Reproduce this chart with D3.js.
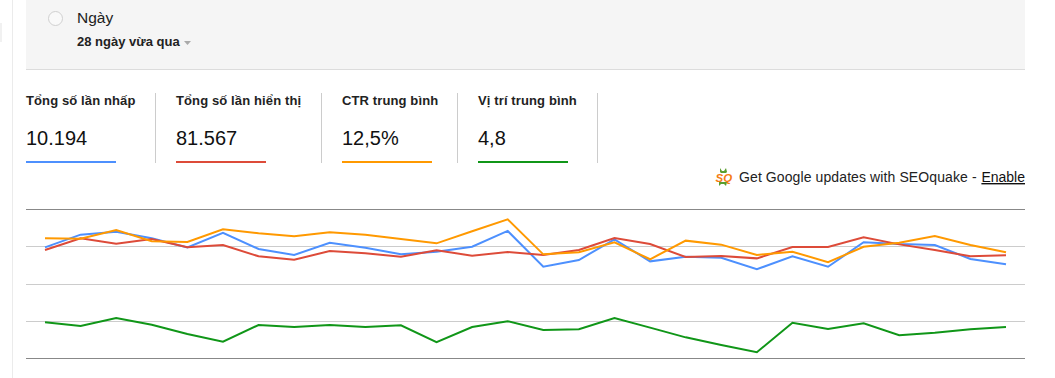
<!DOCTYPE html>
<html>
  <head>
    <meta charset="utf-8" />
    <title>Search Analytics</title>
    <style>
      html,
      body {
        margin: 0;
        padding: 0;
        background: #fff;
        overflow: hidden;
      }

      svg {
        display: block;
        font-family: 'Liberation Sans', Arial, sans-serif;
      }
    </style>
  </head>
  <body>
    <svg id="svg" width="1055" height="378"></svg>
    <script src="https://cdn.jsdelivr.net/npm/d3@7"></script>
    <script>
      const width = 1055;
      const height = 378;

      const days = d3.range(1, 29);
      const metricNames = ['Tổng số lần nhấp', 'Tổng số lần hiển thị', 'CTR trung bình', 'Vị trí trung bình'];
      const metricValues = ['10.194', '81.567', '12,5%', '4,8'];
      const metricColors = ['#4d90fe', '#dd4b39', '#ff9900', '#109618'];
      const gridTicks = [0, 25, 50, 75, 100];

      const clicks = [74.6, 83.1, 85.1, 80.7, 74.6, 84.4, 73.5, 69.5, 77.7, 74.4, 69.9, 71.7, 75.0, 85.6, 61.6, 66.1, 80.0, 65.2, 68.3, 67.6, 59.9, 68.6, 61.6, 78.0, 76.8, 76.2, 66.8, 63.2];
      const impressions = [72.8, 80.7, 77.0, 80.2, 74.6, 76.2, 68.6, 66.3, 72.1, 70.6, 68.3, 72.6, 69.0, 71.5, 69.5, 72.8, 80.9, 76.8, 68.1, 68.8, 67.2, 74.8, 74.8, 81.3, 76.6, 72.8, 68.6, 69.3];
      const ctr = [80.7, 80.4, 86.2, 78.7, 78.2, 86.7, 84.0, 82.0, 84.7, 83.1, 80.2, 77.3, 85.4, 93.4, 69.9, 71.3, 78.0, 66.6, 79.1, 76.4, 69.5, 71.7, 64.6, 75.0, 77.7, 82.2, 76.2, 71.3];
      const position = [24.3, 21.8, 27.2, 22.7, 16.4, 11.3, 22.5, 21.1, 22.5, 21.1, 22.3, 10.9, 21.1, 25.0, 19.1, 19.6, 27.2, 20.7, 14.2, 9.1, 4.2, 24.0, 19.8, 23.6, 15.6, 17.3, 19.6, 21.1];

      const svg = d3.select('#svg');

      // side rule and grey filter panel
      svg.append('rect').attr('x', 0).attr('y', 23).attr('width', 2).attr('height', 19).attr('fill', '#f1f1f1');
      svg.append('rect').attr('x', 12).attr('y', 0).attr('width', 1).attr('height', height).attr('fill', '#ebebeb');
      svg.append('rect').attr('x', 26).attr('y', 0).attr('width', 999).attr('height', 69).attr('fill', '#f5f5f5');
      svg.append('rect').attr('x', 26).attr('y', 69).attr('width', 999).attr('height', 1).attr('fill', '#dcdcdc');

      svg
        .append('circle')
        .attr('cx', 55.5)
        .attr('cy', 18.5)
        .attr('r', 7)
        .attr('fill', '#f9f9f9')
        .attr('stroke', '#d0d0d0');
      svg
        .append('text')
        .attr('x', 77)
        .attr('y', 23)
        .attr('font-size', 15.5)
        .attr('fill', '#222')
        .text('Ngày');
      svg
        .append('text')
        .attr('x', 77)
        .attr('y', 46)
        .attr('font-size', 13)
        .attr('font-weight', 'bold')
        .attr('fill', '#222')
        .text('28 ngày vừa qua');
      svg.append('path').attr('d', 'M184 41h7l-3.5 4z').attr('fill', '#aaa');

      // metric tabs
      const tabX = d3.scaleOrdinal().domain(metricNames).range([26, 176, 342, 478]);
      const tabs = svg
        .selectAll('g.tab')
        .data(metricNames)
        .enter()
        .append('g')
        .attr('class', 'tab')
        .attr('transform', (d) => `translate(${tabX(d)}, 0)`);
      tabs
        .append('text')
        .attr('y', 105)
        .attr('font-size', 13)
        .attr('font-weight', 'bold')
        .attr('letter-spacing', 0.12)
        .attr('fill', '#222')
        .text((d) => d);
      tabs
        .append('text')
        .attr('y', 145)
        .attr('font-size', 20)
        .attr('fill', '#111')
        .text((d, i) => metricValues[i]);
      tabs
        .append('rect')
        .attr('y', 161)
        .attr('width', 90)
        .attr('height', 2)
        .attr('fill', (d, i) => metricColors[i]);

      svg
        .selectAll('rect.sep')
        .data([155, 321, 457, 597])
        .enter()
        .append('rect')
        .attr('class', 'sep')
        .attr('x', (d) => d)
        .attr('y', 93)
        .attr('width', 1)
        .attr('height', 70)
        .attr('fill', '#ccc');

      // SEOquake notice
      const icon = svg.append('g').attr('transform', 'translate(715, 168)');
      icon
        .append('path')
        .attr('d', 'M5 0l2 3 2 0 2-3 1 4-1 1h-5l-1-1zM4 14h6l2 0-1 4-2-2h-3l-2 2z')
        .attr('fill', '#5a9e2f');
      icon
        .append('text')
        .attr('x', 0.5)
        .attr('y', 14)
        .attr('font-size', 11.5)
        .attr('font-weight', 'bold')
        .attr('font-style', 'italic')
        .attr('fill', '#f57c14')
        .text('SQ');
      svg
        .append('text')
        .attr('x', 739)
        .attr('y', 182)
        .attr('font-size', 14)
        .attr('letter-spacing', 0.1)
        .attr('fill', '#222')
        .text('Get Google updates with SEOquake - ');
      svg
        .append('text')
        .attr('x', 1025)
        .attr('y', 182)
        .attr('text-anchor', 'end')
        .attr('font-size', 14)
        .attr('fill', '#111')
        .attr('text-decoration', 'underline')
        .text('Enable');

      // chart
      const xScale = d3.scalePoint().domain(days).range([45, 1006]);
      const yScale = d3.scaleLinear().domain([0, 100]).range([358.5, 209.5]);
      // grid gets whole pixels so the rules stay crisp
      const gridScale = d3.scaleLinear().domain([0, 100]).rangeRound([358, 209]);

      const leftAxis = d3.axisLeft(gridScale).tickValues(gridTicks).tickSize(-999).tickFormat('');
      const grid = svg.append('g').attr('transform', 'translate(26, 0)').call(leftAxis);
      grid.select('.domain').remove();
      grid
        .selectAll('.tick line')
        .attr('stroke', (d) => (d === 0 || d === 100 ? '#888' : '#ccc'));

      const linegen = d3
        .line()
        .x((d, i) => xScale(days[i]))
        .y((d) => yScale(d));

      svg
        .selectAll('path.series')
        .data([clicks, impressions, ctr, position])
        .enter()
        .append('path')
        .attr('class', 'series')
        .attr('d', linegen)
        .attr('fill', 'none')
        .attr('stroke', (d, i) => metricColors[i])
        .attr('stroke-width', 2);
    </script>
  </body>
</html>
